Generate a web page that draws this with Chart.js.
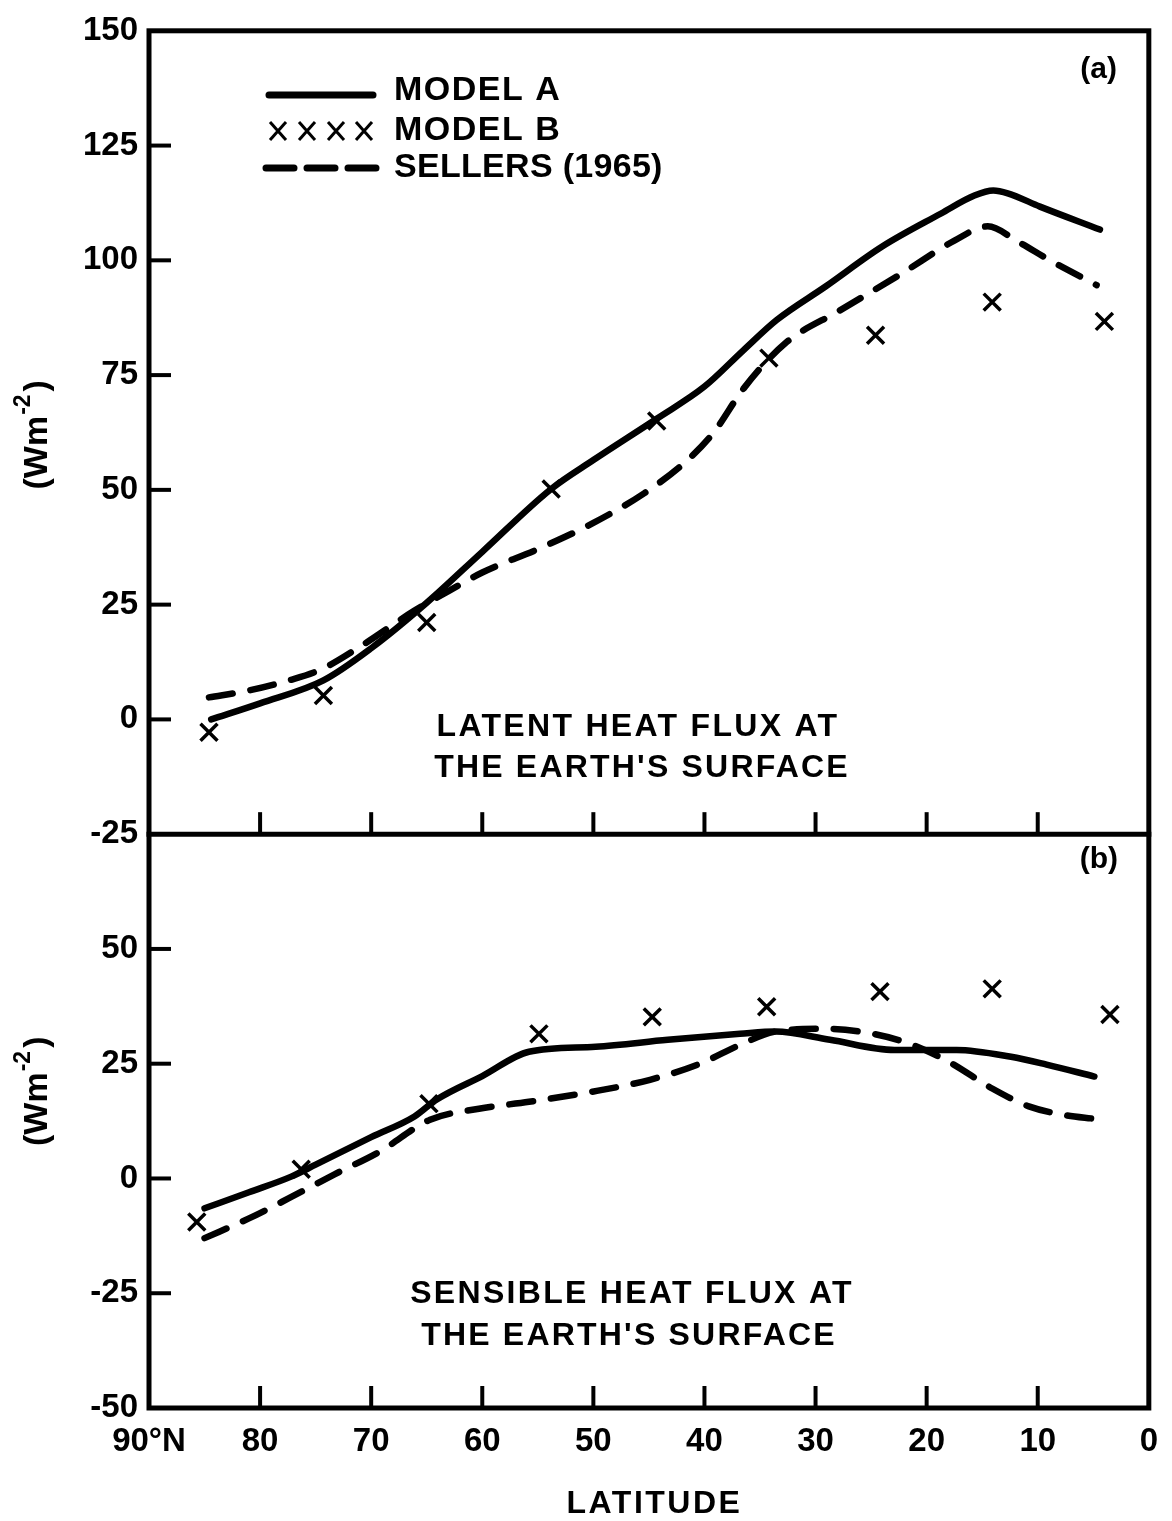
<!DOCTYPE html>
<html>
<head>
<meta charset="utf-8">
<script src="https://cdn.jsdelivr.net/npm/chart.js@4.4.1/dist/chart.umd.min.js"></script>
<style>
  html, body { margin: 0; padding: 0; background: #fff; }
  #wrap { width: 1172px; height: 1521px; }
</style>
</head>
<body>
<div id="wrap"><canvas id="fluxChart" width="1172" height="1521"></canvas></div>
<script>
  // (a) latent heat flux, top panel
  const latentLatA = [84.4, 80, 74.3, 70, 65, 60, 53.8, 50, 44.3, 40, 36.5, 33.5, 29.1, 24, 18.7, 15.7, 14, 12.7, 9.8, 4.4];
  const latentModelA = [0, 3.5, 8.5, 15.5, 25.4, 36.5, 50.2, 56.5, 65.5, 72.5, 80.4, 87, 94.3, 103, 110.2, 114.1, 115.2, 114.6, 111.7, 106.7];

  const latentLatS = [84.6, 81, 77.4, 74.5, 70.9, 66.1, 63, 60, 54.7, 50, 45.4, 41.8, 39.2, 36.5, 32.7, 27.8, 22.2, 17.5, 14.5, 11.8, 8.9, 4.7];
  const latentSellers = [4.8, 6.3, 8.5, 10.9, 16, 23.7, 28, 32, 37.4, 42.8, 49.3, 55.9, 62.4, 72, 82, 89.1, 97.2, 104.3, 107.4, 104.1, 100, 94.6];

  const latentLatB = [84.6, 74.3, 65, 53.8, 44.3, 34.2, 24.6, 14.1, 4];
  const latentModelB = [-2.8, 5.2, 21.1, 50.2, 65, 78.7, 83.7, 90.9, 86.7];

  // (b) sensible heat flux, bottom panel
  const sensLatA = [85, 81, 77.2, 75, 70, 66.1, 64.1, 60, 55.8, 49.8, 43.3, 36.8, 33.6, 28.7, 22.9, 17.3, 12.4, 9.2, 4.9];
  const sensModelA = [-6.5, -3, 0.4, 3, 9, 13.5, 17.2, 22.3, 27.6, 28.7, 30.2, 31.5, 32, 30.2, 28, 28, 26.5, 24.8, 22.2];

  const sensLatS = [85, 81, 77.4, 73.3, 69.2, 64.7, 60.3, 55.8, 50.1, 44.9, 40.4, 36.8, 33.6, 29, 24.8, 21.5, 18, 14.1, 10.8, 7.5, 4.9];
  const sensSellers = [-13, -8.7, -4.3, 0.9, 5.9, 12.8, 15.2, 16.7, 18.9, 21.5, 25, 29.1, 32, 32.6, 31.5, 29.3, 25.4, 19.6, 15.7, 13.8, 13];

  const sensLatB = [85.7, 76.3, 64.8, 54.9, 44.7, 34.4, 24.2, 14.1, 3.5];
  const sensModelB = [-9.5, 2, 16.3, 31.5, 35.2, 37.4, 40.7, 41.3, 35.7];

  const latTicks = [90, 80, 70, 60, 50, 40, 30, 20, 10, 0];
  const latentTicks = [150, 125, 100, 75, 50, 25, 0, -25];
  const sensTicks = [50, 25, 0, -25, -50];

  const legendLabels = ["MODEL A", "MODEL B", "SELLERS (1965)"];
  const latentNote = ["LATENT HEAT FLUX AT", "THE EARTH'S SURFACE"];
  const sensNote = ["SENSIBLE HEAT FLUX AT", "THE EARTH'S SURFACE"];

  const FONT = "'Liberation Sans', Arial, sans-serif";
  Chart.defaults.font.family = FONT;
  Chart.defaults.color = "#000";

  function pts(xs, ys) {
    return xs.map((x, i) => ({ x, y: ys[i] }));
  }

  function solid(data, axis) {
    return {
      data, yAxisID: axis, borderColor: "#000", borderWidth: 6.5,
      pointRadius: 0, cubicInterpolationMode: "monotone", fill: false,
      borderCapStyle: "round", borderJoinStyle: "round"
    };
  }

  function dashed(data, axis) {
    return {
      data, yAxisID: axis, borderColor: "#000", borderWidth: 6.5,
      borderDash: [24, 18], borderCapStyle: "round",
      pointRadius: 0, cubicInterpolationMode: "monotone", fill: false
    };
  }

  function crosses(data, axis) {
    return {
      data, yAxisID: axis, showLine: false, borderColor: "#000",
      pointStyle: "crossRot", pointRadius: 12, pointBorderWidth: 3.5,
      pointBorderColor: "#000"
    };
  }

  function spaced(ctx, text, x, y, spacing) {
    ctx.letterSpacing = spacing + "px";
    ctx.fillText(text, x, y);
    ctx.letterSpacing = "0px";
  }

  function drawUnit(ctx, cx, cy) {
    ctx.save();
    ctx.translate(cx, cy);
    ctx.rotate(-Math.PI / 2);
    ctx.textBaseline = "middle";
    ctx.textAlign = "left";
    const big = "bold 34px " + FONT;
    const small = "bold 23px " + FONT;
    ctx.font = big;
    const w1 = ctx.measureText("(Wm").width;
    const w3 = ctx.measureText(")").width;
    ctx.font = small;
    const w2 = ctx.measureText("-2").width;
    let x = -(w1 + w2 + w3 + 4) / 2;
    ctx.font = big;
    ctx.fillText("(Wm", x, 0);
    x += w1 + 1;
    ctx.font = small;
    ctx.fillText("-2", x, -14);
    x += w2 + 3;
    ctx.font = big;
    ctx.fillText(")", x, 0);
    ctx.restore();
  }

  const framePlugin = {
    id: "frame",
    afterDraw(chart) {
      const { ctx, chartArea: a, scales } = chart;
      const xs = scales.x, yt = scales.yTop, yb = scales.yBot;
      const line = (x1, y1, x2, y2) => {
        ctx.beginPath(); ctx.moveTo(x1, y1); ctx.lineTo(x2, y2); ctx.stroke();
      };
      ctx.save();
      ctx.strokeStyle = "#000";
      ctx.lineWidth = 5;
      ctx.lineCap = "square";
      ctx.strokeRect(a.left, a.top, a.right - a.left, a.bottom - a.top);
      const mid = yt.getPixelForValue(-25);
      line(a.left, mid, a.right, mid);

      ctx.lineWidth = 4;
      ctx.lineCap = "butt";
      latTicks.forEach(v => {
        if (v === 0 || v === 90) return;
        const px = xs.getPixelForValue(v);
        line(px, mid, px, mid - 22);
        line(px, a.bottom, px, a.bottom - 22);
      });
      latentTicks.forEach(v => {
        if (v === 150 || v === -25) return;
        const py = yt.getPixelForValue(v);
        line(a.left, py, a.left + 22, py);
      });
      sensTicks.forEach(v => {
        if (v === -50) return;
        const py = yb.getPixelForValue(v);
        line(a.left, py, a.left + 22, py);
      });

      // legend
      ctx.lineWidth = 7;
      ctx.lineCap = "round";
      line(269, 95, 373, 95);
      ctx.setLineDash([28, 13]);
      line(266, 168, 376, 168);
      ctx.setLineDash([]);
      ctx.lineWidth = 3;
      ctx.lineCap = "butt";
      [278, 307, 336, 364].forEach(cx => {
        line(cx - 8, 122, cx + 8, 140);
        line(cx - 8, 140, cx + 8, 122);
      });

      ctx.fillStyle = "#000";
      ctx.textBaseline = "middle";
      ctx.textAlign = "left";
      ctx.font = "bold 34px " + FONT;
      spaced(ctx, legendLabels[0], 394, 91, 1.5);
      spaced(ctx, legendLabels[1], 394, 131, 1.5);
      spaced(ctx, legendLabels[2], 394, 168, 0.3);

      // panel notes
      ctx.textAlign = "center";
      ctx.font = "bold 32px " + FONT;
      spaced(ctx, latentNote[0], 638, 727, 2.3);
      spaced(ctx, latentNote[1], 642, 768, 2.2);
      spaced(ctx, sensNote[0], 632, 1294, 2.3);
      spaced(ctx, sensNote[1], 629, 1336, 2.2);

      ctx.textAlign = "right";
      ctx.font = "bold 30px " + FONT;
      ctx.fillText("(a)", 1117, 70);
      ctx.fillText("(b)", 1118, 860);

      // axis titles
      ctx.textAlign = "center";
      ctx.font = "bold 32px " + FONT;
      spaced(ctx, "LATITUDE", xs.getPixelForValue(44.5), 1504, 2.5);
      drawUnit(ctx, 38, yt.getPixelForValue(62));
      drawUnit(ctx, 38, yb.getPixelForValue(19));
      ctx.restore();
    }
  };

  const tickFont = { size: 33, weight: "bold" };

  new Chart(document.getElementById("fluxChart"), {
    type: "line",
    data: {
      datasets: [
        solid(pts(latentLatA, latentModelA), "yTop"),
        dashed(pts(latentLatS, latentSellers), "yTop"),
        crosses(pts(latentLatB, latentModelB), "yTop"),
        solid(pts(sensLatA, sensModelA), "yBot"),
        dashed(pts(sensLatS, sensSellers), "yBot"),
        crosses(pts(sensLatB, sensModelB), "yBot")
      ]
    },
    options: {
      responsive: false,
      devicePixelRatio: 1,
      animation: false,
      events: [],
      layout: { padding: { top: 27, right: 14, left: 0, bottom: 0 } },
      plugins: { legend: { display: false }, tooltip: { enabled: false } },
      scales: {
        x: {
          type: "linear", reverse: true, min: 0, max: 90,
          grid: { display: false, drawTicks: false },
          border: { display: false },
          afterBuildTicks: s => { s.ticks = latTicks.map(v => ({ value: v })); },
          afterFit: s => { s.height = 113; },
          ticks: {
            autoSkip: false, maxRotation: 0, padding: 14, font: tickFont,
            callback: v => (v === 90 ? "90°N" : String(v))
          }
        },
        yTop: {
          type: "linear", position: "left", stack: "flux", stackWeight: 175, weight: 1,
          min: -25, max: 150,
          grid: { display: false, drawTicks: false },
          border: { display: false },
          afterBuildTicks: s => { s.ticks = latentTicks.map(v => ({ value: v })); },
          afterFit: s => { s.width = 149; },
          ticks: { padding: 11, font: tickFont }
        },
        yBot: {
          type: "linear", position: "left", stack: "flux", stackWeight: 125, weight: 0,
          min: -50, max: 75,
          grid: { display: false, drawTicks: false },
          border: { display: false },
          afterBuildTicks: s => { s.ticks = sensTicks.map(v => ({ value: v })); },
          afterFit: s => { s.width = 149; },
          ticks: { padding: 11, font: tickFont }
        }
      }
    },
    plugins: [framePlugin]
  });
</script>
</body>
</html>
